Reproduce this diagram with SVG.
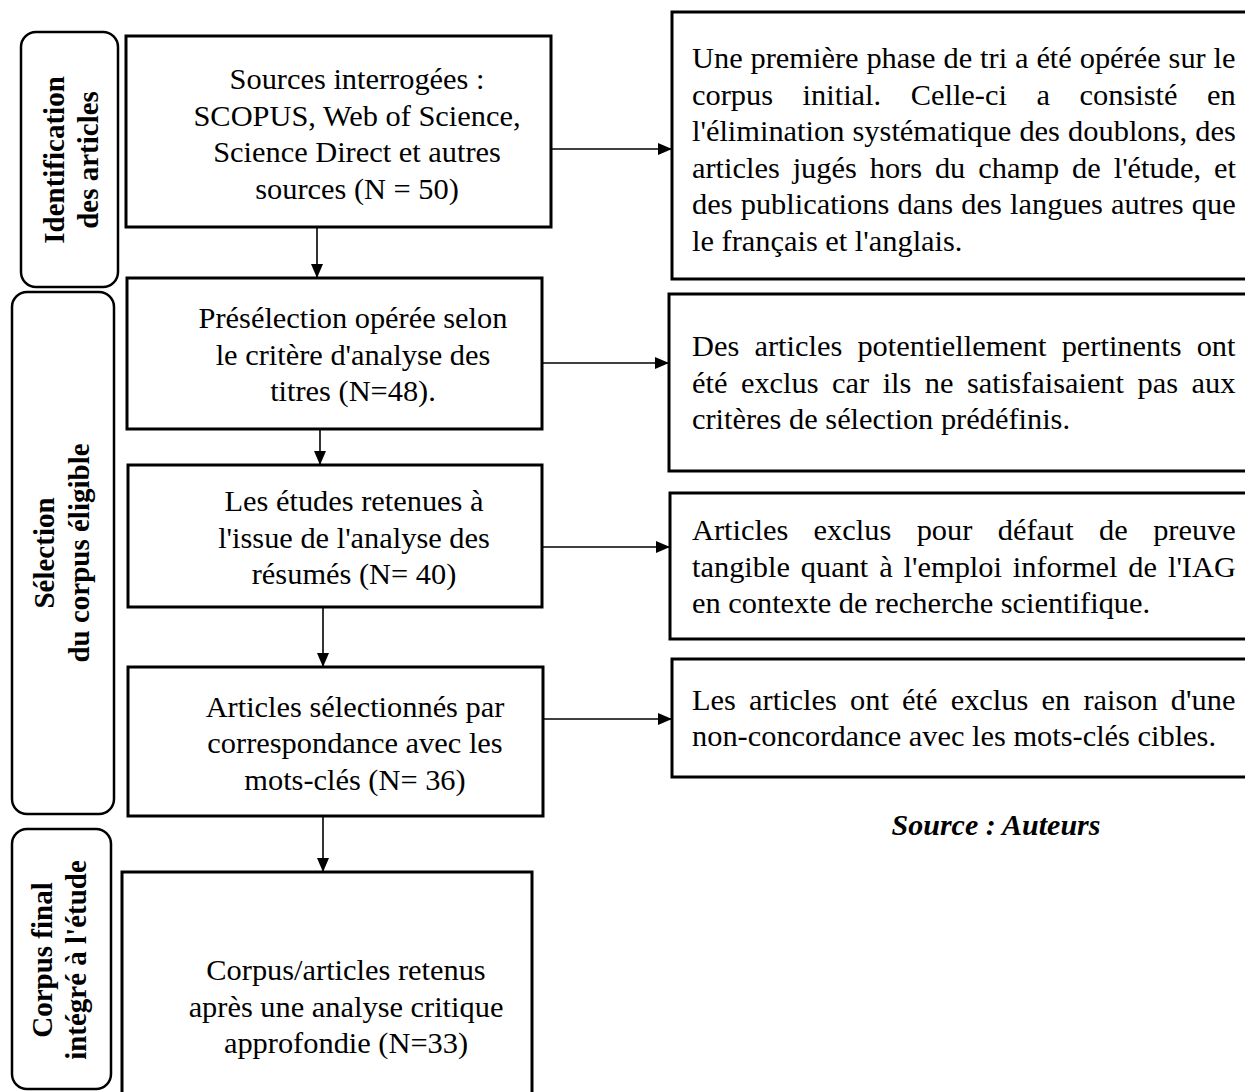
<svg xmlns="http://www.w3.org/2000/svg" width="1245" height="1092" viewBox="0 0 1245 1092">
<defs>
<style>
.box{fill:#fff;stroke:#000;stroke-width:3}
.lab{fill:#fff;stroke:#000;stroke-width:2.5}
.t{font-family:"Liberation Serif","Times New Roman",serif;font-size:30.4px;fill:#000}
.c{text-anchor:middle}
.b{font-family:"Liberation Serif","Times New Roman",serif;font-size:29px;font-weight:bold;fill:#000;text-anchor:middle}
.src{font-family:"Liberation Serif","Times New Roman",serif;font-size:30px;font-weight:bold;font-style:italic;fill:#000;text-anchor:middle}
.ln{stroke:#000;stroke-width:1.6;fill:none}
</style>
<marker id="ah" viewBox="0 0 14 12" refX="14" refY="6" markerWidth="14" markerHeight="12" markerUnits="userSpaceOnUse" orient="auto">
<path d="M0,0 L14,6 L0,12 Z" fill="#000"/>
</marker>
</defs>
<rect width="1245" height="1092" fill="#fff"/>

<g id="label-identification">
<rect class="lab" x="21" y="32" width="97" height="255" rx="15"/>
<text class="b" transform="translate(64,160) rotate(-90)">Identification</text>
<text class="b" transform="translate(98,160) rotate(-90)">des articles</text>
</g>
<g id="label-selection">
<rect class="lab" x="12" y="292" width="102" height="522" rx="15"/>
<text class="b" transform="translate(54,553) rotate(-90)">Sélection</text>
<text class="b" transform="translate(89,553) rotate(-90)">du corpus éligible</text>
</g>
<g id="label-corpus">
<rect class="lab" x="12" y="829" width="99" height="260" rx="15"/>
<text class="b" transform="translate(52,960) rotate(-90)">Corpus final</text>
<text class="b" transform="translate(86,960) rotate(-90)">intégré à l'étude</text>
</g>

<g id="node-sources">
<rect class="box" x="126" y="36" width="425" height="191"/>
<text class="t c" x="357" y="89">Sources interrogées :</text>
<text class="t c" x="357" y="125.5">SCOPUS, Web of Science,</text>
<text class="t c" x="357" y="162">Science Direct et autres</text>
<text class="t c" x="357" y="198.5">sources (N = 50)</text>
</g>
<g id="node-preselection">
<rect class="box" x="127" y="278" width="415" height="151"/>
<text class="t c" x="353" y="328">Présélection opérée selon</text>
<text class="t c" x="353" y="364.5">le critère d'analyse des</text>
<text class="t c" x="353" y="401">titres (N=48).</text>
</g>
<g id="node-resumes">
<rect class="box" x="128" y="465" width="414" height="142"/>
<text class="t c" x="354" y="511">Les études retenues à</text>
<text class="t c" x="354" y="547.5">l'issue de l'analyse des</text>
<text class="t c" x="354" y="584">résumés (N= 40)</text>
</g>
<g id="node-motscles">
<rect class="box" x="128" y="667" width="415" height="149"/>
<text class="t c" x="355" y="716.5">Articles sélectionnés par</text>
<text class="t c" x="355" y="753">correspondance avec les</text>
<text class="t c" x="355" y="789.5">mots-clés (N= 36)</text>
</g>
<g id="node-final">
<rect class="box" x="122" y="872" width="410" height="240"/>
<text class="t c" x="346" y="980">Corpus/articles retenus</text>
<text class="t c" x="346" y="1016.5">après une analyse critique</text>
<text class="t c" x="346" y="1053">approfondie (N=33)</text>
</g>

<g id="node-excl1">
<rect class="box" x="672" y="12" width="580" height="267"/>
<text class="t" x="692" y="68" word-spacing="0.3">Une première phase de tri a été opérée sur le</text>
<text class="t" x="692" y="104.5" word-spacing="22">corpus initial. Celle-ci a consisté en</text>
<text class="t" x="692" y="141" word-spacing="0.6">l'élimination systématique des doublons, des</text>
<text class="t" x="692" y="177.5" word-spacing="5.3">articles jugés hors du champ de l'étude, et</text>
<text class="t" x="692" y="214" word-spacing="0.6">des publications dans des langues autres que</text>
<text class="t" x="692" y="250.5">le français et l'anglais.</text>
</g>
<g id="node-excl2">
<rect class="box" x="669" y="294" width="583" height="177"/>
<text class="t" x="692" y="356" word-spacing="7.6">Des articles potentiellement pertinents ont</text>
<text class="t" x="692" y="392.5" word-spacing="5.9">été exclus car ils ne satisfaisaient pas aux</text>
<text class="t" x="692" y="429">critères de sélection prédéfinis.</text>
</g>
<g id="node-excl3">
<rect class="box" x="670" y="493" width="582" height="146"/>
<text class="t" x="692" y="540" word-spacing="17.8">Articles exclus pour défaut de preuve</text>
<text class="t" x="692" y="576.5" word-spacing="3.3">tangible quant à l'emploi informel de l'IAG</text>
<text class="t" x="692" y="613">en contexte de recherche scientifique.</text>
</g>
<g id="node-excl4">
<rect class="box" x="672" y="659" width="580" height="118"/>
<text class="t" x="692" y="709.5" word-spacing="5.6">Les articles ont été exclus en raison d'une</text>
<text class="t" x="692" y="746">non-concordance avec les mots-clés cibles.</text>
</g>

<g id="source-note">
<text class="src" x="996" y="835">Source : Auteurs</text>
</g>

<g id="connectors">
<line class="ln" x1="317" y1="227" x2="317" y2="278" marker-end="url(#ah)"/>
<line class="ln" x1="320" y1="429" x2="320" y2="465" marker-end="url(#ah)"/>
<line class="ln" x1="323" y1="607" x2="323" y2="667" marker-end="url(#ah)"/>
<line class="ln" x1="323" y1="816" x2="323" y2="872" marker-end="url(#ah)"/>
<line class="ln" x1="551" y1="149" x2="672" y2="149" marker-end="url(#ah)"/>
<line class="ln" x1="542" y1="363" x2="669" y2="363" marker-end="url(#ah)"/>
<line class="ln" x1="542" y1="547" x2="670" y2="547" marker-end="url(#ah)"/>
<line class="ln" x1="543" y1="719" x2="672" y2="719" marker-end="url(#ah)"/>
</g>
</svg>
